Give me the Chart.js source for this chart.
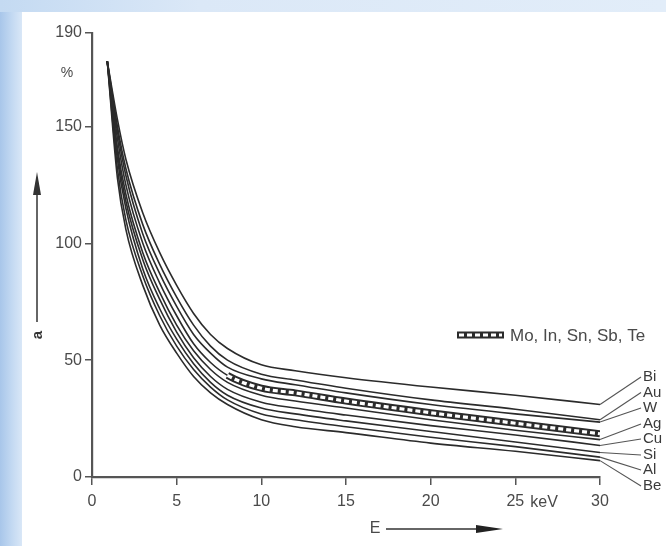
<!DOCTYPE html>
<html><head><meta charset="utf-8">
<script src="https://cdn.jsdelivr.net/npm/chart.js@4/dist/chart.umd.min.js"></script>
<style>
html,body{margin:0;padding:0;}
body{width:666px;height:546px;position:relative;overflow:hidden;background:linear-gradient(90deg,#a8c6ea 0px,#c3d9f2 12px,#d9e7f7 22px);}
#top{position:absolute;left:0;top:0;width:666px;height:12px;background:linear-gradient(90deg,#c4daf2,#dbe8f7 30%,#e2edf9);}
#panel{position:absolute;left:22px;top:12px;width:644px;height:534px;background:#fff;}
#wrap{position:absolute;left:0;top:0;width:666px;height:546px;}
</style></head><body>
<div id="top"></div><div id="panel"></div>
<div id="wrap"><canvas id="c"></canvas></div>
<script>
// energies (keV)
const energies = [0.9, 1.5, 2, 3, 4, 5, 6, 7, 8, 10, 12, 15, 20, 25, 30];
// series values (%)
const bi   = [178, 153, 136, 113, 96, 82, 70, 61, 55, 48, 45.5, 42.5, 38.5, 35, 31];
const au   = [178, 150, 132, 108, 91, 77, 65, 56, 50, 44, 41.5, 38, 33, 29, 24.5];
const w    = [178, 148, 129, 104, 87, 73, 61, 53, 47, 42, 39.5, 36, 31, 27, 23.5];
const band = [178, 145, 125, 100, 83, 69, 57, 49, 43.5, 38, 36, 32.5, 27.5, 23, 18.5];
const ag   = [178, 141, 121, 96, 79, 65, 54, 46, 40.5, 35, 32.5, 29.5, 24.5, 20, 16];
const cu   = [178, 139, 118, 93, 76, 62, 51, 43, 37.5, 32, 29.5, 26.5, 22, 18, 13.5];
const si   = [178, 136, 115, 89, 72, 59, 48.5, 40.5, 35, 29.5, 27, 24, 19.5, 15, 10.5];
const al   = [178, 132, 110, 86, 69, 56, 46, 38.5, 33, 27, 24.5, 21.5, 17, 13, 8.5];
const be   = [178, 128, 106, 82, 65, 53, 43, 36, 31, 24.5, 21.5, 19, 14.5, 11, 7];
// tick labels
const xTickValues = [0, 5, 10, 15, 20, 25, 30];
const yTickValues = [0, 50, 100, 150, 190];
const elementLabels = ['Bi', 'Au', 'W', 'Ag', 'Cu', 'Si', 'Al', 'Be'];
const elementSeries = [bi, au, w, ag, cu, si, al, be];
const bandLabel = 'Mo, In, Sn, Sb, Te';
const bandStart = 8; // keV where hatched band becomes distinct
const xUnit = 'keV';
const xName = 'E';
const yUnit = '%';
const yName = 'a';

const FONT = "'Liberation Sans', Arial, sans-serif";
const INK = '#2b2b2b';
const TXT = '#4a4a4a';

function pts(arr){ return arr.map((v,i)=>({x:energies[i], y:v})); }

const datasets = [];
datasets.push({label:'band-w', data:pts(band), borderColor:'#fff', borderWidth:3.2, borderDash:[5,3], order:0,
  segment:{borderColor: c => c.p0.parsed.x >= bandStart ? '#fff' : 'rgba(0,0,0,0)'}});
datasets.push({label:bandLabel, data:pts(band), borderColor:INK, borderWidth:7, order:1,
  segment:{borderWidth: c => c.p0.parsed.x >= bandStart ? 7 : 1.6}});
elementSeries.forEach((s,i)=>{
  datasets.push({label:elementLabels[i], data:pts(s), borderColor:INK, borderWidth:1.6, order:2});
});

const extras = {
  id:'extras',
  afterDraw(chart){
    const ctx = chart.ctx, xs = chart.scales.x, ys = chart.scales.y;
    ctx.save();
    ctx.fillStyle = TXT; ctx.strokeStyle = '#555';
    ctx.font = "14px " + FONT; ctx.textAlign='center'; ctx.textBaseline='middle';
    ctx.fillText(yUnit, 67, 73);
    // vertical arrow
    ctx.lineWidth = 2; ctx.strokeStyle='#666';
    ctx.beginPath(); ctx.moveTo(37, 322); ctx.lineTo(37, 190); ctx.stroke();
    ctx.fillStyle='#333';
    ctx.beginPath(); ctx.moveTo(37, 172); ctx.lineTo(33, 195); ctx.lineTo(41, 195); ctx.closePath(); ctx.fill();
    ctx.save(); ctx.translate(38, 335); ctx.rotate(-Math.PI/2);
    ctx.font = "bold 15px " + FONT; ctx.fillText(yName, 0, 0); ctx.restore();
    // x name + arrow
    ctx.fillStyle = TXT; ctx.font = "16px " + FONT;
    ctx.fillText(xName, 375, 529);
    ctx.strokeStyle='#666'; ctx.lineWidth=2;
    ctx.beginPath(); ctx.moveTo(386, 529); ctx.lineTo(480, 529); ctx.stroke();
    ctx.fillStyle='#222';
    ctx.beginPath(); ctx.moveTo(503, 529); ctx.lineTo(476, 525); ctx.lineTo(476, 533); ctx.closePath(); ctx.fill();
    // keV unit after 25
    ctx.fillStyle = TXT; ctx.font = "16px " + FONT; ctx.textAlign='left';
    ctx.fillText(xUnit, xs.getPixelForValue(25) + 15, 503);
    // band legend symbol
    ctx.strokeStyle = INK; ctx.lineWidth = 7; ctx.setLineDash([]);
    ctx.beginPath(); ctx.moveTo(457, 335); ctx.lineTo(504, 335); ctx.stroke();
    ctx.strokeStyle = '#fff'; ctx.lineWidth = 3.2; ctx.setLineDash([5,3]);
    ctx.beginPath(); ctx.moveTo(459, 335); ctx.lineTo(502, 335); ctx.stroke();
    ctx.setLineDash([]);
    ctx.fillStyle = TXT; ctx.font = "17px " + FONT; ctx.textAlign='left';
    ctx.fillText(bandLabel, 510, 336);
    // leader lines and element labels
    const labelY = [377, 392.5, 408, 424, 439, 455, 470, 486];
    ctx.strokeStyle = '#555'; ctx.lineWidth = 1.1;
    ctx.font = "15px " + FONT; ctx.fillStyle = '#3a3a3a';
    elementSeries.forEach((s,i)=>{
      const x0 = xs.getPixelForValue(energies[energies.length-1]);
      const y0 = ys.getPixelForValue(s[s.length-1]);
      ctx.beginPath(); ctx.moveTo(x0, y0); ctx.lineTo(641, labelY[i]); ctx.stroke();
      ctx.fillText(elementLabels[i], 643, labelY[i]);
    });
    ctx.restore();
  }
};

new Chart(document.getElementById('c'), {
  type:'line',
  data:{datasets},
  options:{
    responsive:true, maintainAspectRatio:false, animation:false,
    layout:{padding:{left:0, right:66, top:33, bottom:0}},
    elements:{point:{radius:0}, line:{cubicInterpolationMode:'monotone', fill:false}},
    plugins:{legend:{display:false}, tooltip:{enabled:false}},
    scales:{
      x:{type:'linear', min:0, max:30,
        afterBuildTicks(s){ s.ticks = xTickValues.map(v=>({value:v})); },
        afterFit(s){ s.height = 69; },
        grid:{display:true, drawOnChartArea:false, drawTicks:true, tickLength:8, color:'#555', lineWidth:1.5},
        border:{display:true, color:'#555', width:2.2},
        ticks:{color:TXT, font:{family:FONT, size:16}, padding:7, maxRotation:0, autoSkip:false, callback:v=>String(v)}
      },
      y:{type:'linear', min:0, max:190,
        afterBuildTicks(s){ s.ticks = yTickValues.map(v=>({value:v})); },
        afterFit(s){ s.width = 92; },
        grid:{display:true, drawOnChartArea:false, drawTicks:true, tickLength:7, color:'#555', lineWidth:1.5},
        border:{display:true, color:'#555', width:2.2},
        ticks:{color:TXT, font:{family:FONT, size:16}, padding:3, autoSkip:false, callback:v=>String(v)}
      }
    }
  },
  plugins:[extras]
});
</script>
</body></html>
